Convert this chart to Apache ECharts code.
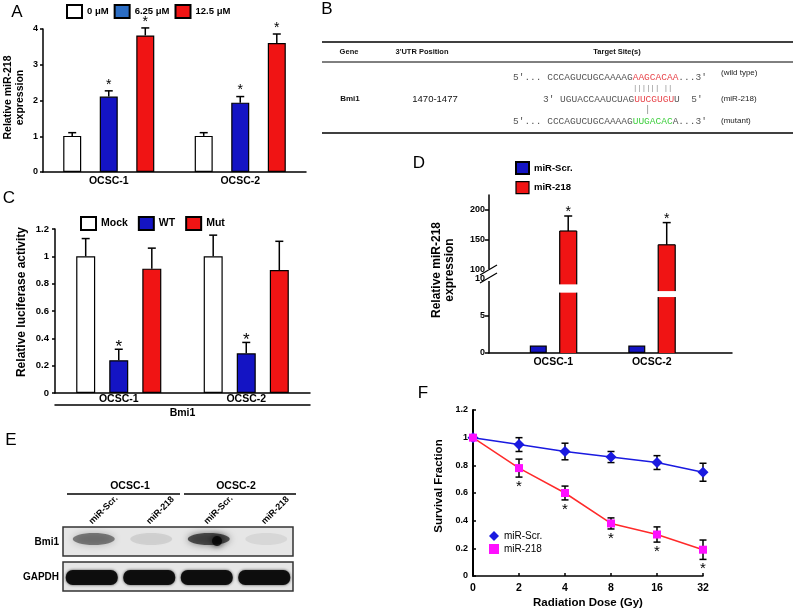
<!DOCTYPE html>
<html>
<head>
<meta charset="utf-8">
<script src="https://cdn.jsdelivr.net/npm/echarts@6/dist/echarts.min.js"></script>
<style>
  html, body { margin: 0; padding: 0; background: #fff; }
  #chart { width: 795px; height: 611px; }
</style>
</head>
<body>
<div id="chart"></div>
<script>
// A - miR-218 expression by dose
const aCategories = ['OCSC-1', 'OCSC-2'];
const aDoses = ['0 μM', '6.25 μM', '12.5 μM'];
const aValues = [[1.01, 1.01], [2.11, 1.94], [3.82, 3.61]];
const aErrors = [[0.09, 0.09], [0.16, 0.17], [0.21, 0.25]];
const aStars = [[0, 0], [1, 1], [1, 1]];

// B - target site table
const tableHeaders = ['Gene', "3'UTR Position", 'Target Site(s)'];
const tableGene = 'Bmi1';
const tablePosition = '1470-1477';
const seqWild = ["5'... CCCAGUCUGCAAAAG", 'AAGCACAA', "...3'"];
const seqMir = ["3' UGUACCAAUCUAG", 'UUCGUGU', "U  5'"];
const seqMutant = ["5'... CCCAGUCUGCAAAAG", 'UUGACAC', "A...3'"];
const seqPairs = '|||||| ||';
const seqNotes = ['(wild type)', '(miR-218)', '(mutant)'];

// C - luciferase
const cCategories = ['OCSC-1', 'OCSC-2'];
const cGroups = ['Mock', 'WT', 'Mut'];
const cValues = [[1.0, 1.0], [0.24, 0.29], [0.91, 0.9]];
const cErrors = [[0.13, 0.155], [0.08, 0.08], [0.15, 0.21]];
const cStars = [[0, 0], [1, 1], [0, 0]];
const cGene = ['Bmi1'];

// D - miR-218 after transfection (broken axis)
const dCategories = ['OCSC-1', 'OCSC-2'];
const dGroups = ['miR-Scr.', 'miR-218'];
const dScr = [1, 1];
const d218 = [165, 142];
const d218Err = [25, 37];
const d218Stars = [1, 1];
const d218BreakLow = [8.1, 7.5];
const d218BreakHigh = [9.2, 8.3];
const dUpperTicks = [100, 150, 200];
const dLowerTicks = [0, 5, 10];

// E - western blot
const eCells = ['OCSC-1', 'OCSC-2'];
const eLanes = ['miR-Scr.', 'miR-218', 'miR-Scr.', 'miR-218'];
const eProteins = ['Bmi1', 'GAPDH'];
const eBmi1Density = [0.5, 0.1, 0.72, 0.07];
const eGapdhDensity = [0.95, 0.95, 0.95, 0.95];

// F - survival
const fDoses = ['0', '2', '4', '8', '16', '32'];
const fScr = [1, 0.95, 0.9, 0.86, 0.82, 0.75];
const fScrErr = [0, 0.05, 0.06, 0.04, 0.05, 0.065];
const f218 = [1, 0.78, 0.6, 0.38, 0.3, 0.19];
const f218Err = [0, 0.065, 0.05, 0.04, 0.055, 0.07];
const f218Stars = [0, 1, 1, 1, 1, 1];

const BLUE = '#1414c4';
const RED = '#f01414';
const BOLD = 'bold';
const FONT = 'Liberation Sans';

function errorSeries(cfg) {
  return {
    type: 'custom',
    xAxisIndex: cfg.xAxisIndex,
    yAxisIndex: cfg.yAxisIndex,
    z: cfg.z || 4,
    silent: true,
    clip: false,
    encode: { x: 0, y: 1 },
    data: cfg.values.map((v, i) => [i, v, cfg.errors[i], cfg.stars ? cfg.stars[i] : 0]),
    renderItem: function (params, api) {
      const idx = api.value(0), v = api.value(1), e = api.value(2), star = api.value(3);
      const mid = api.coord([idx, v]);
      const x = mid[0] + (cfg.offset || 0);
      const yHi = api.coord([idx, v + e])[1];
      const yLo = api.coord([idx, v - e])[1];
      const half = cfg.cap / 2;
      const st = { stroke: '#000', lineWidth: cfg.lineWidth || 1.5 };
      const kids = [];
      if (e > 0) {
        kids.push({ type: 'line', shape: { x1: x, y1: cfg.both ? yLo : mid[1], x2: x, y2: yHi }, style: st });
        kids.push({ type: 'line', shape: { x1: x - half, y1: yHi, x2: x + half, y2: yHi }, style: st });
        if (cfg.both) kids.push({ type: 'line', shape: { x1: x - half, y1: yLo, x2: x + half, y2: yLo }, style: st });
      }
      if (star) {
        kids.push({
          type: 'text',
          style: {
            text: '*', x: x,
            y: cfg.both ? yLo + cfg.starGap : yHi - cfg.starGap,
            align: 'center', verticalAlign: 'middle',
            font: cfg.starFont, fill: '#000'
          }
        });
      }
      return { type: 'group', children: kids };
    }
  };
}

// black outline of the broken bars in D (sides, plus top in the upper part)
function outlineSeries(xi, yi, vals, fromVal, toVal, offset, w, withTop) {
  return {
    type: 'custom', xAxisIndex: xi, yAxisIndex: yi, z: 4, silent: true, clip: false,
    encode: { x: 0, y: 1 },
    data: vals.map((v, i) => [i, withTop ? v : toVal]),
    renderItem: function (params, api) {
      const idx = api.value(0), v = api.value(1);
      const pTop = api.coord([idx, v]);
      const yBot = api.coord([idx, fromVal])[1];
      const x = pTop[0] + offset, h = w / 2;
      const st = { stroke: '#000', lineWidth: 1.2 };
      const kids = [
        { type: 'line', shape: { x1: x - h, y1: yBot, x2: x - h, y2: pTop[1] }, style: st },
        { type: 'line', shape: { x1: x + h, y1: yBot, x2: x + h, y2: pTop[1] }, style: st }
      ];
      if (withTop) kids.push({ type: 'line', shape: { x1: x - h, y1: pTop[1], x2: x + h, y2: pTop[1] }, style: st });
      return { type: 'group', children: kids };
    }
  };
}

function barSeries(name, x, y, data, color, w, gap, extra) {
  return Object.assign({
    name: name, type: 'bar', xAxisIndex: x, yAxisIndex: y, data: data,
    barWidth: w, barGap: gap,
    itemStyle: { color: color, borderColor: '#000', borderWidth: 1.2 }
  }, extra || {});
}

const axisLineStyle = { lineStyle: { color: '#000', width: 1.5 } };
function labelStyle(size) {
  return { color: '#000', fontWeight: BOLD, fontSize: size, fontFamily: FONT };
}

// bar layout constants
const aBarW = 18, aGap = 1.03;
const cBarW = 19, cGap = 0.74;
const dBarW = 17, dGap = 0.76;
const dUpperMin = 93.33, dUpperMax = 225, dLowerMax = 10.59;

const chart = echarts.init(document.getElementById('chart'));

const series = [];
// A
const aColors = ['#ffffff', BLUE, RED];
aDoses.forEach((d, k) => {
  series.push(barSeries(d, 0, 0, aValues[k], aColors[k], aBarW, (aGap * 100) + '%'));
  series.push(errorSeries({
    xAxisIndex: 0, yAxisIndex: 0, values: aValues[k], errors: aErrors[k], stars: aStars[k],
    offset: (k - 1) * aBarW * (1 + aGap), cap: 8, starGap: 6, starFont: '14px ' + FONT
  }));
});
// C
const cColors = ['#ffffff', BLUE, RED];
cGroups.forEach((g, k) => {
  series.push(barSeries(g, 1, 1, cValues[k], cColors[k], cBarW, (cGap * 100) + '%'));
  series.push(errorSeries({
    xAxisIndex: 1, yAxisIndex: 1, values: cValues[k], errors: cErrors[k], stars: cStars[k],
    offset: (k - 1) * cBarW * (1 + cGap), cap: 8, starGap: 2, starFont: '17px ' + FONT
  }));
});
// D upper part
const dGapStr = (dGap * 100) + '%';
const dOff = dBarW * (1 + dGap) / 2;
const noBorder = { itemStyle: { color: RED, borderWidth: 0 } };
series.push(barSeries('D scr upper', 3, 2, dScr, BLUE, dBarW, dGapStr));
series.push(barSeries('miR-218', 3, 2, d218, RED, dBarW, dGapStr, noBorder));
series.push(outlineSeries(3, 2, d218, dUpperMin, null, dOff, dBarW, true));
series.push(errorSeries({
  xAxisIndex: 3, yAxisIndex: 2, values: d218, errors: d218Err, stars: d218Stars,
  offset: dOff, cap: 8, starGap: 3.5, starFont: '14px ' + FONT
}));
// D lower part
series.push(barSeries('miR-Scr.', 4, 3, dScr, BLUE, dBarW, dGapStr));
series.push(barSeries('D low a', 4, 3, d218BreakLow, RED, dBarW, dGapStr, Object.assign({ stack: 'd' }, noBorder)));
series.push(barSeries('D low b', 4, 3, d218.map((v, i) => +(v - d218BreakLow[i]).toFixed(2)), RED, dBarW, dGapStr, Object.assign({ stack: 'd' }, noBorder)));
series.push(outlineSeries(4, 3, d218, 0, dLowerMax, dOff, dBarW, false));
// white break band drawn over the bar and its outline
series.push({
  type: 'custom', xAxisIndex: 4, yAxisIndex: 3, z: 6, silent: true, clip: false,
  encode: { x: 0, y: 1 },
  data: d218BreakLow.map((v, i) => [i, v, d218BreakHigh[i]]),
  renderItem: function (params, api) {
    const idx = api.value(0);
    const lo = api.coord([idx, api.value(1)]);
    const hi = api.coord([idx, api.value(2)]);
    const x = lo[0] + dOff;
    return { type: 'rect', shape: { x: x - dBarW / 2 - 1.5, y: hi[1], width: dBarW + 3, height: lo[1] - hi[1] }, style: { fill: '#fff' } };
  }
});
// F
series.push({
  name: 'F miR-Scr.', type: 'line', xAxisIndex: 6, yAxisIndex: 5, data: fScr, z: 5,
  symbol: 'diamond', symbolSize: 11, lineStyle: { color: '#1a1ae0', width: 1.5 },
  itemStyle: { color: '#1a1ae0' }
});
series.push({
  name: 'F miR-218', type: 'line', xAxisIndex: 6, yAxisIndex: 5, data: f218, z: 6,
  symbol: 'rect', symbolSize: 8, lineStyle: { color: '#ff2a2a', width: 1.5 },
  itemStyle: { color: '#ff10ff' }
});
series.push(errorSeries({
  xAxisIndex: 6, yAxisIndex: 5, values: fScr, errors: fScrErr, both: true, cap: 7, z: 3
}));
series.push(errorSeries({
  xAxisIndex: 6, yAxisIndex: 5, values: f218, errors: f218Err, stars: f218Stars, both: true,
  cap: 7, z: 3, starGap: 9.5, starFont: '15px ' + FONT
}));

// ---------- graphic: panel letters, table, blot, axis break
const graphic = [];
[['A', 17, 12], ['B', 327, 9], ['C', 9, 198], ['D', 419, 163], ['E', 11, 440], ['F', 423, 393]].forEach(p => {
  graphic.push({ type: 'text', x: p[1], y: p[2], style: { text: p[0], font: '17px ' + FONT, fill: '#000', align: 'center', verticalAlign: 'middle' } });
});

// table B
[[42, 1.5], [62, 1], [133, 1.5]].forEach(r => {
  graphic.push({ type: 'line', shape: { x1: 322, y1: r[0], x2: 793, y2: r[0] }, style: { stroke: '#000', lineWidth: r[1] } });
});
[349, 422, 617].forEach((cx, i) => {
  graphic.push({ type: 'text', x: cx, y: 52, style: { text: tableHeaders[i], font: 'bold 7.5px ' + FONT, fill: '#111', align: 'center', verticalAlign: 'middle' } });
});
graphic.push({ type: 'text', x: 350, y: 99, style: { text: tableGene, font: 'bold 8px ' + FONT, fill: '#111', align: 'center', verticalAlign: 'middle' } });
graphic.push({ type: 'text', x: 435, y: 99, style: { text: tablePosition, font: '9.5px ' + FONT, fill: '#111', align: 'center', verticalAlign: 'middle' } });
const mono = '"Liberation Mono"';
const seqRich = {
  g: { fill: '#555', fontSize: 9.5, fontFamily: mono },
  r: { fill: '#e8464c', fontSize: 9.5, fontFamily: mono },
  v: { fill: '#3fcf3f', fontSize: 9.5, fontFamily: mono }
};
[[seqWild, 513, 77, 'r'], [seqMir, 543, 99, 'r'], [seqMutant, 513, 121, 'v']].forEach(s => {
  graphic.push({
    type: 'text', x: s[1], y: s[2],
    style: { text: '{g|' + s[0][0] + '}{' + s[3] + '|' + s[0][1] + '}{g|' + s[0][2] + '}', rich: seqRich, align: 'left', verticalAlign: 'middle' }
  });
});
graphic.push({ type: 'text', x: 633, y: 88, style: { text: seqPairs, font: '7.3px ' + mono, fill: '#888', align: 'left', verticalAlign: 'middle' } });
graphic.push({ type: 'text', x: 645, y: 110, style: { text: '|', font: '9px ' + mono, fill: '#888', align: 'left', verticalAlign: 'middle' } });
[73, 99, 121].forEach((y, i) => {
  graphic.push({ type: 'text', x: 721, y: y, style: { text: seqNotes[i], font: '8px ' + FONT, fill: '#222', align: 'left', verticalAlign: 'middle' } });
});

// blot E
const blotX = 63, blotW = 230, laneW = blotW / 4;
graphic.push({ type: 'text', x: 130, y: 486, style: { text: eCells[0], font: 'bold 10.5px ' + FONT, fill: '#000', align: 'center', verticalAlign: 'middle' } });
graphic.push({ type: 'text', x: 236, y: 486, style: { text: eCells[1], font: 'bold 10.5px ' + FONT, fill: '#000', align: 'center', verticalAlign: 'middle' } });
graphic.push({ type: 'line', shape: { x1: 67, y1: 494, x2: 180, y2: 494 }, style: { stroke: '#000', lineWidth: 1.5 } });
graphic.push({ type: 'line', shape: { x1: 184, y1: 494, x2: 296, y2: 494 }, style: { stroke: '#000', lineWidth: 1.5 } });
eLanes.forEach((l, i) => {
  const cx = blotX + laneW * (i + 0.5);
  graphic.push({ type: 'text', x: cx + 2, y: 526, rotation: Math.PI / 4,
    style: { text: l, font: 'bold 9px ' + FONT, fill: '#000', align: 'left', verticalAlign: 'bottom' } });
});
[[527, eProteins[0]], [562, eProteins[1]]].forEach(b => {
  graphic.push({ type: 'rect', shape: { x: blotX, y: b[0], width: blotW, height: 29 }, style: { fill: '#e6e6e6', stroke: '#333', lineWidth: 1.5 } });
  graphic.push({ type: 'text', x: 59, y: b[0] + 15, style: { text: b[1], font: 'bold 10px ' + FONT, fill: '#000', align: 'right', verticalAlign: 'middle' } });
});
eBmi1Density.forEach((d, i) => {
  const cx = blotX + laneW * (i + 0.5) + 2;
  graphic.push({ type: 'ellipse', shape: { cx: cx, cy: 539, rx: 21, ry: 6 },
    style: { fill: 'rgba(30,30,30,' + d + ')', shadowBlur: 7, shadowColor: 'rgba(30,30,30,' + d + ')' } });
});
graphic.push({ type: 'ellipse', shape: { cx: 217, cy: 541, rx: 5, ry: 5 }, style: { fill: 'rgba(0,0,0,0.75)', shadowBlur: 6, shadowColor: '#000' } });
eGapdhDensity.forEach((d, i) => {
  const cx = blotX + laneW * (i + 0.5);
  graphic.push({ type: 'rect', shape: { x: cx - 26, y: 570, width: 52, height: 15, r: 7 },
    style: { fill: 'rgba(10,10,10,' + d + ')', shadowBlur: 3, shadowColor: 'rgba(0,0,0,0.7)' } });
});

// D y-axis name and break marks
graphic.push({ type: 'text', x: 443.5, y: 270, rotation: Math.PI / 2,
  style: { text: 'Relative miR-218\nexpression', font: 'bold 12px ' + FONT, lineHeight: 13, fill: '#000', align: 'center', verticalAlign: 'middle' } });
graphic.push({ type: 'rect', z: 100, shape: { x: 486, y: 269, width: 6, height: 12 }, style: { fill: '#fff' } });
graphic.push({ type: 'line', z: 101, shape: { x1: 480, y1: 275, x2: 497, y2: 265 }, style: { stroke: '#000', lineWidth: 1.2 } });
graphic.push({ type: 'line', z: 101, shape: { x1: 480, y1: 283, x2: 497, y2: 273 }, style: { stroke: '#000', lineWidth: 1.2 } });

const option = {
  animation: false,
  backgroundColor: '#fff',
  textStyle: { fontFamily: FONT },
  legend: [
    {
      left: 66, top: 4, padding: 0, icon: 'rect', itemWidth: 15, itemHeight: 13, itemGap: 5,
      textStyle: labelStyle(9.5),
      data: [aDoses[0], { name: aDoses[1], itemStyle: { color: '#2b6dc4' } }, aDoses[2]]
    },
    {
      left: 80, top: 216, padding: 0, icon: 'rect', itemWidth: 15, itemHeight: 13, itemGap: 10,
      textStyle: labelStyle(10.5), data: cGroups
    },
    {
      left: 515, top: 161, padding: 0, icon: 'rect', orient: 'vertical', itemWidth: 13, itemHeight: 12, itemGap: 6,
      textStyle: labelStyle(9.5),
      data: [dGroups[0], { name: dGroups[1], itemStyle: { color: RED, borderColor: '#000', borderWidth: 1.2 } }]
    },
    {
      left: 489, top: 531, padding: 0, orient: 'vertical', itemWidth: 10, itemHeight: 10, itemGap: 3,
      textStyle: { color: '#000', fontSize: 10, fontFamily: FONT },
      formatter: n => n.replace(/^F /, ''),
      data: [{ name: 'F miR-Scr.', icon: 'diamond' }, { name: 'F miR-218', icon: 'rect' }]
    }
  ],
  grid: [
    { left: 43, top: 29, width: 263, height: 143 },
    { left: 55, top: 229, width: 255, height: 164 },
    { left: 504, top: 195, width: 197, height: 79 },
    { left: 504, top: 274, width: 197, height: 79 },
    { left: 489, top: 274, width: 243, height: 79 },
    { left: 473, top: 410, width: 230, height: 166 }
  ],
  xAxis: [
    { gridIndex: 0, type: 'category', data: aCategories, axisLine: axisLineStyle,
      axisTick: { inside: true, length: 4, lineStyle: { width: 1.5 } }, axisLabel: Object.assign(labelStyle(10.5), { margin: 4 }) },
    { gridIndex: 1, type: 'category', data: cCategories, axisLine: axisLineStyle,
      axisTick: { show: false }, axisLabel: Object.assign(labelStyle(10.5), { margin: 1 }) },
    { gridIndex: 1, type: 'category', position: 'bottom', data: cGene, offset: 12, axisLine: axisLineStyle,
      axisTick: { show: false }, axisLabel: Object.assign(labelStyle(10.5), { margin: 3 }) },
    { gridIndex: 2, type: 'category', data: dCategories, show: false },
    { gridIndex: 3, type: 'category', data: dCategories, axisLine: { show: false },
      axisTick: { show: false }, axisLabel: Object.assign(labelStyle(10.5), { margin: 4 }) },
    { gridIndex: 4, type: 'category', data: dCategories, axisLine: axisLineStyle,
      axisTick: { show: false }, axisLabel: { show: false } },
    { gridIndex: 5, type: 'category', data: fDoses, boundaryGap: false, axisLine: axisLineStyle,
      axisTick: { inside: true, length: 3, lineStyle: { width: 1.5 } }, axisLabel: Object.assign(labelStyle(10.5), { margin: 7 }),
      name: 'Radiation Dose (Gy)', nameLocation: 'middle', nameGap: 21,
      nameTextStyle: labelStyle(11.5) }
  ],
  yAxis: [
    { gridIndex: 0, type: 'value', min: 0, max: 4, interval: 1, splitLine: { show: false },
      axisLine: Object.assign({ show: true }, axisLineStyle), axisTick: { show: true, length: 3, lineStyle: { width: 1.5 } },
      axisLabel: Object.assign(labelStyle(9), { margin: 5 }),
      name: 'Relative miR-218\nexpression', nameLocation: 'middle', nameRotate: 90, nameGap: 17,
      nameTextStyle: Object.assign(labelStyle(10.5), { lineHeight: 12, padding: [0, 0, 0, 6] }) },
    { gridIndex: 1, type: 'value', min: 0, max: 1.2, interval: 0.2, splitLine: { show: false },
      axisLine: Object.assign({ show: true }, axisLineStyle), axisTick: { show: true, length: 3, lineStyle: { width: 1.5 } },
      axisLabel: Object.assign(labelStyle(9.5), { margin: 6 }),
      name: 'Relative luciferase activity', nameLocation: 'middle', nameRotate: 90, nameGap: 27,
      nameTextStyle: Object.assign(labelStyle(12), { padding: [0, 0, 0, 18] }) },
    { gridIndex: 2, type: 'value', min: dUpperMin, max: dUpperMax, offset: 15, splitLine: { show: false },
      axisLine: Object.assign({ show: true }, axisLineStyle),
      axisTick: { show: true, length: 4, customValues: dUpperTicks.slice(1), lineStyle: { width: 1.5 } },
      axisLabel: Object.assign(labelStyle(9), { margin: 4, customValues: dUpperTicks }) },
    { gridIndex: 3, type: 'value', min: 0, max: dLowerMax, offset: 15, splitLine: { show: false },
      axisLine: Object.assign({ show: true }, axisLineStyle),
      axisTick: { show: true, length: 4, customValues: dLowerTicks.slice(0, 2), lineStyle: { width: 1.5 } },
      axisLabel: Object.assign(labelStyle(9), { margin: 4, customValues: dLowerTicks }) },
    { gridIndex: 4, type: 'value', show: false },
    { gridIndex: 5, type: 'value', min: 0, max: 1.2, interval: 0.2, splitLine: { show: false },
      axisLine: { show: true, lineStyle: { color: '#000', width: 2 } },
      axisTick: { show: true, inside: true, length: 3, lineStyle: { width: 1.5 } },
      axisLabel: Object.assign(labelStyle(9), { margin: 5 }),
      name: 'Survival Fraction', nameLocation: 'middle', nameRotate: 90, nameGap: 28,
      nameTextStyle: Object.assign(labelStyle(11.5), { padding: [0, 0, 0, 14] }) }
  ],
  graphic: graphic,
  series: series
};

chart.setOption(option);
</script>
</body>
</html>
